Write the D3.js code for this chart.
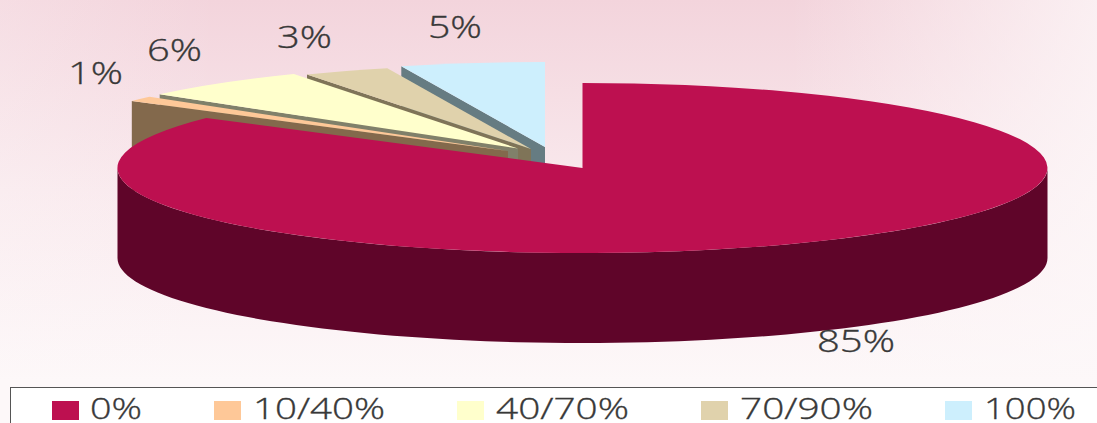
<!DOCTYPE html>
<html>
<head>
<meta charset="utf-8">
<script src="https://cdn.jsdelivr.net/npm/d3@7/dist/d3.min.js"></script>
<style>
  html, body { margin: 0; padding: 0; background: #fff; }
  svg { display: block; }
  text { font-family: "Open Sans", "Noto Sans", sans-serif; font-weight: 300; fill: #383838; stroke: #383838; stroke-width: 0.35px; }
</style>
</head>
<body>
<svg id="chart" width="1097" height="423"></svg>
<script>
// Share of the total per occupancy band
const categories = ["0%", "10/40%", "40/70%", "70/90%", "100%"];
const shares = [85, 1, 6, 3, 5];
const topColors = ["#bd1050", "#fec898", "#ffffcc", "#e0d2ac", "#cdeffd"];
const wallColors = ["#5f0529", "#83694c", "#80806a", "#7f7458", "#667c82"];

// Layout: where each wedge's apex sits once pulled out of the pie
const apexX = [582.5, 508, 518, 531, 545];
const apexY = [168, 151, 148.5, 149, 147];
const radiusX = 465, radiusY = 85, depth = 90;

// Value label boxes: left, right, baseline
const labelLeft = [817, 68, 147, 277, 428];
const labelRight = [895, 123, 202, 332, 482];
const labelBase = [352, 84, 61, 48, 38];

// Legend columns
const legendSwatchX = [52, 214, 457, 701, 945];
const legendTextLeft = [90, 253, 496, 740, 984];
const legendTextRight = [142, 385, 629, 873, 1076];

const svg = d3.select("#chart");

const defs = svg.append("defs");
const bg = defs.append("linearGradient").attr("id", "bg")
  .attr("x1", 0).attr("y1", 0).attr("x2", 0).attr("y2", 1);
bg.append("stop").attr("offset", 0).attr("stop-color", "#f3d4dc");
bg.append("stop").attr("offset", 0.45).attr("stop-color", "#f9e9ed");
bg.append("stop").attr("offset", 0.9).attr("stop-color", "#fdf8f9");
svg.append("rect").attr("width", 1097).attr("height", 423).attr("fill", "url(#bg)");

// Wash that pales the backdrop towards both side edges
const wash = defs.append("linearGradient").attr("id", "wash")
  .attr("x1", 0).attr("y1", 0).attr("x2", 1).attr("y2", 0);
[[0, 0.25], [0.2, 0], [0.72, 0], [1, 0.75]].forEach(([o, a]) =>
  wash.append("stop").attr("offset", o).attr("stop-color", "#fdf8f9").attr("stop-opacity", a));
svg.append("rect").attr("width", 1097).attr("height", 423).attr("fill", "url(#wash)");

// Slice angles: d3.pie runs clockwise from twelve o'clock, in data order
const pie = d3.pie().sort(null).value(d => d);
const arcs = pie(shares);
const unitArc = d3.arc().innerRadius(0).outerRadius(1);

const sx = (i, a) => apexX[i] + radiusX * Math.sin(a);
const sy = (i, a) => apexY[i] - radiusY * Math.cos(a);

const lineGen = d3.line();
const pies = svg.append("g");

// Paint back to front: the last wedge is furthest away, the big slice is nearest
d3.range(arcs.length - 1, -1, -1).forEach(i => {
  const d = arcs[i];
  const g = pies.append("g");

  if (i === 0) {
    // Front rim of the large slice: lower half of the ellipse, extruded down
    const steps = d3.range(Math.PI / 2, 3 * Math.PI / 2 + 0.001, Math.PI / 90);
    const upper = steps.map(a => [sx(i, a), sy(i, a)]);
    const lower = steps.map(a => [sx(i, a), sy(i, a) + depth]).reverse();
    g.append("path")
      .attr("d", lineGen(upper.concat(lower)) + "Z")
      .attr("fill", wallColors[i]);
  } else {
    // Cut face along the wedge's leading edge
    const a = d.startAngle;
    const face = [
      [apexX[i], apexY[i]],
      [sx(i, a), sy(i, a)],
      [sx(i, a), sy(i, a) + depth],
      [apexX[i], apexY[i] + depth]
    ];
    g.append("path")
      .attr("d", lineGen(face) + "Z")
      .attr("fill", wallColors[i]);
  }

  // Top surface: a unit arc squashed into the perspective ellipse
  g.append("path")
    .attr("transform", `translate(${apexX[i]},${apexY[i]}) scale(${radiusX},${radiusY})`)
    .attr("d", unitArc(d))
    .attr("fill", topColors[i]);
});

// Value labels, stretched to the wide lettering of the chart
svg.append("g").selectAll("text").data(shares).join("text")
  .attr("x", (d, i) => labelLeft[i])
  .attr("y", (d, i) => labelBase[i])
  .attr("font-size", 32)
  .attr("textLength", (d, i) => labelRight[i] - labelLeft[i])
  .attr("lengthAdjust", "spacingAndGlyphs")
  .text(d => d + "%");

// Legend strip, running off the right and bottom edges
svg.append("rect")
  .attr("x", 10.5).attr("y", 387.5)
  .attr("width", 1100).attr("height", 60)
  .attr("fill", "#ffffff")
  .attr("stroke", "#555555");

const legend = svg.append("g").selectAll("g").data(categories).join("g");
legend.append("rect")
  .attr("x", (d, i) => legendSwatchX[i])
  .attr("y", 401)
  .attr("width", 27).attr("height", 19)
  .attr("fill", (d, i) => topColors[i]);
legend.append("text")
  .attr("x", (d, i) => legendTextLeft[i])
  .attr("y", 419)
  .attr("font-size", 30)
  .attr("textLength", (d, i) => legendTextRight[i] - legendTextLeft[i])
  .attr("lengthAdjust", "spacingAndGlyphs")
  .text(d => d);
</script>
</body>
</html>
